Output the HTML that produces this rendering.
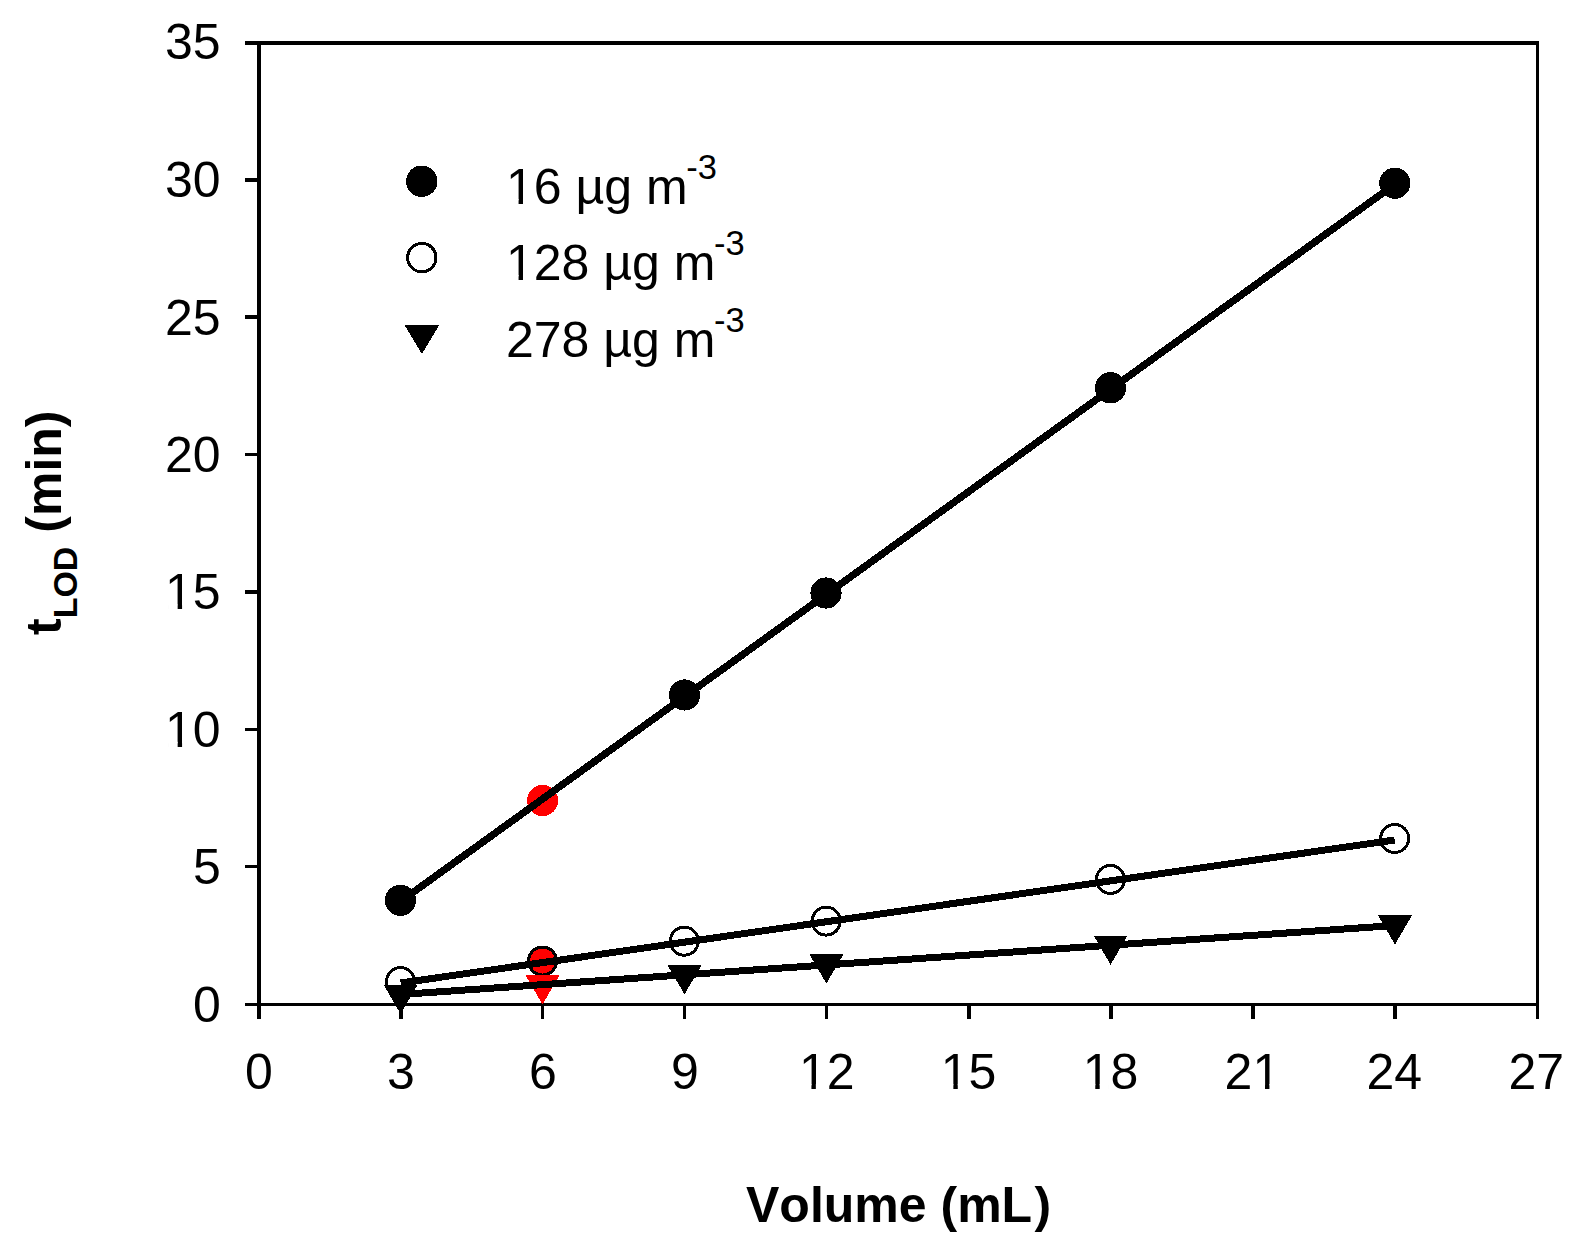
<!DOCTYPE html>
<html><head><meta charset="utf-8"><title>tLOD vs Volume</title>
<style>
html,body{margin:0;padding:0;background:#fff;}
body{width:1594px;height:1249px;overflow:hidden;}
svg{display:block;}
text{font-family:"Liberation Sans",Arial,Helvetica,sans-serif;fill:#000;}
.tick{font-size:50px;}
.ttl{font-size:50px;font-weight:bold;font-kerning:none;}
.sub{font-size:34px;}
.sup{font-size:34.5px;}
</style></head><body>
<svg width="1594" height="1249" viewBox="0 0 1594 1249">
<rect width="1594" height="1249" fill="#fff"/>

<g fill="#000" shape-rendering="crispEdges">
<rect x="245" y="41" width="1294" height="4"/>
<rect x="245" y="1003" width="1294" height="3"/>
<rect x="257" y="41" width="4" height="978"/>
<rect x="1536" y="41" width="3" height="978"/>
<rect x="245" y="178" width="14" height="4"/>
<rect x="245" y="315" width="14" height="4"/>
<rect x="245" y="453" width="14" height="3"/>
<rect x="245" y="590" width="14" height="4"/>
<rect x="245" y="728" width="14" height="3"/>
<rect x="245" y="865" width="14" height="3"/>
<rect x="399" y="1004" width="4" height="15"/>
<rect x="541" y="1004" width="3" height="15"/>
<rect x="683" y="1004" width="3" height="15"/>
<rect x="825" y="1004" width="3" height="15"/>
<rect x="967" y="1004" width="4" height="15"/>
<rect x="1109" y="1004" width="4" height="15"/>
<rect x="1251" y="1004" width="4" height="15"/>
<rect x="1393" y="1004" width="4" height="15"/>
</g>
<g class="tick" text-anchor="end">
<text x="220.7" y="1021.5">0</text>
<text x="220.7" y="884.1">5</text>
<text x="220.7" y="746.8">10</text>
<text x="220.7" y="609.4">15</text>
<text x="220.7" y="472.1">20</text>
<text x="220.7" y="334.7">25</text>
<text x="220.7" y="197.4">30</text>
<text x="220.7" y="58.8">35</text>
</g>
<g class="tick" text-anchor="middle">
<text x="259.0" y="1089">0</text>
<text x="400.9" y="1089">3</text>
<text x="542.8" y="1089">6</text>
<text x="684.8" y="1089">9</text>
<text x="826.7" y="1089">12</text>
<text x="968.6" y="1089">15</text>
<text x="1110.5" y="1089">18</text>
<text x="1252.4" y="1089">21</text>
<text x="1394.3" y="1089">24</text>
<text x="1536.3" y="1089">27</text>
</g>
<text class="ttl" text-anchor="middle" x="898.6" y="1222">Volume (mL<tspan dx="2.4">)</tspan></text>
<text class="ttl" transform="translate(60.5,635) rotate(-90)">t<tspan class="sub" dy="16.5">LOD</tspan><tspan dy="-16.5"> (min)</tspan></text>
<g shape-rendering="crispEdges">
<circle cx="421.8" cy="181.2" r="15.7" fill="#000"/>
<circle cx="421.8" cy="257.6" r="14.2" fill="#fff" stroke="#000" stroke-width="3"/>
<polygon points="404.6,325.2 439.2,325.2 421.9,354" fill="#000"/>
</g>
<text class="tick" x="506" y="204">16 µg m<tspan class="sup" dx="-1.5" dy="-25.3">-3</tspan></text>
<text class="tick" x="506" y="280">128 µg m<tspan class="sup" dx="-1.5" dy="-25.3">-3</tspan></text>
<text class="tick" x="506" y="357">278 µg m<tspan class="sup" dx="-1.5" dy="-25.3">-3</tspan></text>
<g>
<rect x="168.08" y="741.79" width="9.57" height="6.5" fill="#fff"/>
<rect x="182.07" y="741.79" width="9.21" height="6.5" fill="#fff"/>
<rect x="168.08" y="604.43" width="9.57" height="6.5" fill="#fff"/>
<rect x="182.07" y="604.43" width="9.21" height="6.5" fill="#fff"/>
<rect x="801.86" y="1084.00" width="9.57" height="6.5" fill="#fff"/>
<rect x="815.85" y="1084.00" width="9.21" height="6.5" fill="#fff"/>
<rect x="943.78" y="1084.00" width="9.57" height="6.5" fill="#fff"/>
<rect x="957.77" y="1084.00" width="9.21" height="6.5" fill="#fff"/>
<rect x="1085.70" y="1084.00" width="9.57" height="6.5" fill="#fff"/>
<rect x="1099.69" y="1084.00" width="9.21" height="6.5" fill="#fff"/>
<rect x="1255.43" y="1084.00" width="9.57" height="6.5" fill="#fff"/>
<rect x="1269.42" y="1084.00" width="9.21" height="6.5" fill="#fff"/>
<rect x="509.00" y="199.00" width="9.57" height="6.5" fill="#fff"/>
<rect x="522.99" y="199.00" width="9.21" height="6.5" fill="#fff"/>
<rect x="509.00" y="275.00" width="9.57" height="6.5" fill="#fff"/>
<rect x="522.99" y="275.00" width="9.21" height="6.5" fill="#fff"/>
</g>
<g shape-rendering="crispEdges">
<circle cx="400.5" cy="900.3" r="15.6" fill="#000"/>
<circle cx="542.6" cy="800.5" r="15.6" fill="#f00"/>
<circle cx="684.5" cy="695" r="15.6" fill="#000"/>
<circle cx="826" cy="593" r="15.6" fill="#000"/>
<circle cx="1110.5" cy="387.8" r="15.6" fill="#000"/>
<circle cx="1394.8" cy="183.2" r="15.6" fill="#000"/>
<line x1="400.5" y1="901.4" x2="1394.8" y2="184.3" stroke="#000" stroke-width="7.3"/>
<circle cx="400.5" cy="981.5" r="14" fill="#fff" stroke="#000" stroke-width="3"/>
<circle cx="542.5" cy="961" r="14" fill="#f00" stroke="#000" stroke-width="3"/>
<circle cx="684.3" cy="941.2" r="14" fill="#fff" stroke="#000" stroke-width="3"/>
<circle cx="826.2" cy="921.1" r="14" fill="#fff" stroke="#000" stroke-width="3"/>
<circle cx="1110.4" cy="879.4" r="14" fill="#fff" stroke="#000" stroke-width="3"/>
<circle cx="1394.7" cy="838.5" r="14" fill="#fff" stroke="#000" stroke-width="3"/>
<line x1="400.6" y1="983" x2="1394.7" y2="840" stroke="#000" stroke-width="7"/>
<polygon points="383.6,984.7 417.6,984.7 400.6,1013.9" fill="#000"/>
<polygon points="525.5,975.2 559.5,975.2 542.5,1004.4" fill="#f00"/>
<polygon points="667.5,965.1 701.5,965.1 684.5,994.3" fill="#000"/>
<polygon points="809.4,954.3 843.4,954.3 826.4,983.5" fill="#000"/>
<polygon points="1093.6,935.5 1127.6,935.5 1110.6,964.7" fill="#000"/>
<polygon points="1378.0,915.3 1412.0,915.3 1395.0,944.5" fill="#000"/>
<line x1="400.6" y1="994.5" x2="1394.7" y2="925.5" stroke="#000" stroke-width="7"/>
</g>
</svg></body></html>
